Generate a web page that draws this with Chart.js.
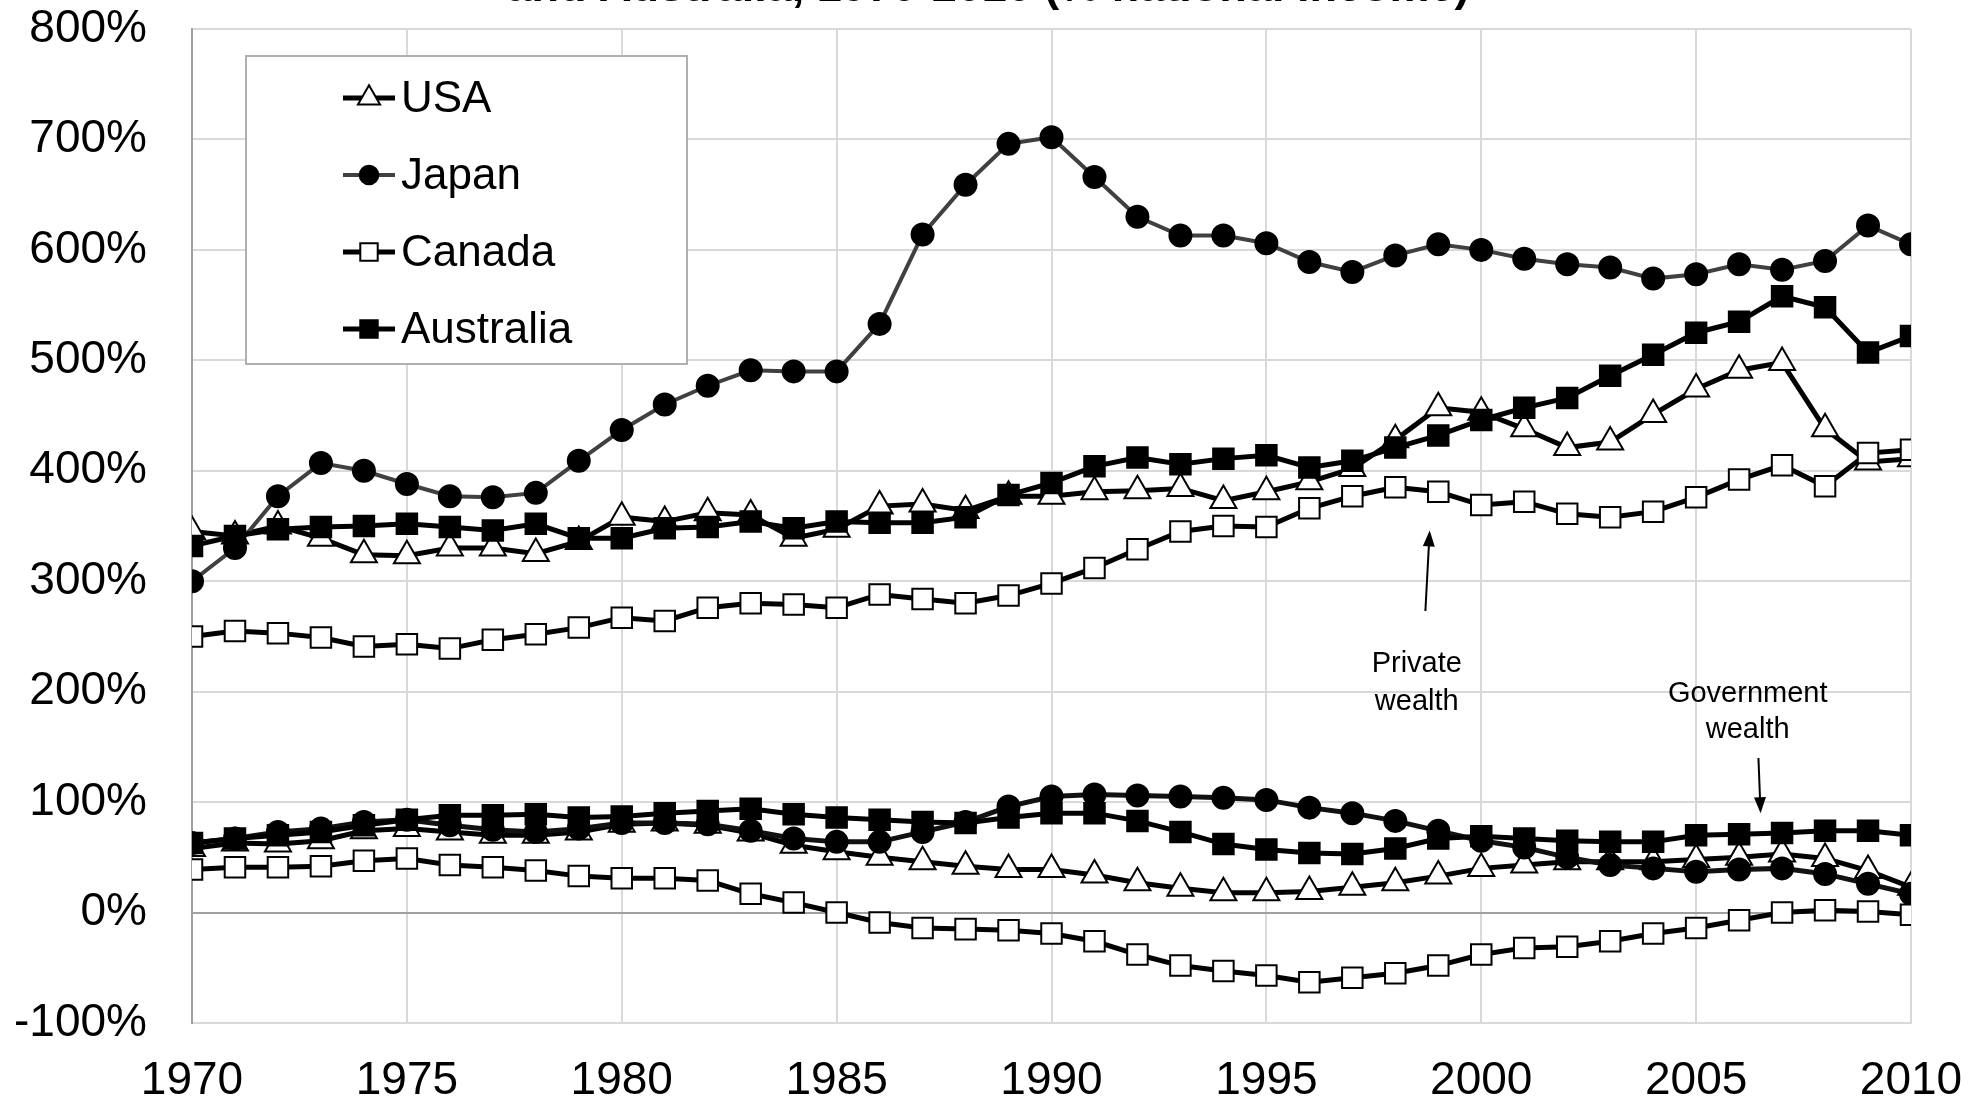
<!DOCTYPE html>
<html>
<head>
<meta charset="utf-8">
<script src="https://cdn.jsdelivr.net/npm/chart.js@4.4.1/dist/chart.umd.min.js"></script>
<style>
  html, body { margin: 0; padding: 0; background: #fff; overflow: hidden; }
  #wrap { position: absolute; left: 0; top: -60px; width: 1971px; height: 1166px; }
</style>
</head>
<body>
<div id="wrap"><canvas id="mycanvas" width="1971" height="1166"></canvas></div>
<script>
// chart data
var years = [1970, 1971, 1972, 1973, 1974, 1975, 1976, 1977, 1978, 1979,
             1980, 1981, 1982, 1983, 1984, 1985, 1986, 1987, 1988, 1989,
             1990, 1991, 1992, 1993, 1994, 1995, 1996, 1997, 1998, 1999,
             2000, 2001, 2002, 2003, 2004, 2005, 2006, 2007, 2008, 2009, 2010];

var countries = ["USA", "Japan", "Canada", "Australia"];

// private wealth (% national income)
var usaPrivate = [345, 341, 350, 339, 324, 323, 330, 330, 325, 336,
                  358, 354, 362, 360, 339, 347, 368, 370, 364, 377,
                  377, 381, 382, 384, 373, 381, 390, 402, 428, 457,
                  453, 438, 421, 426, 451, 474, 491, 498, 438, 408, 411];
var japanPrivate = [300, 330, 377, 407, 400, 388, 377, 376, 380, 409,
                    437, 460, 477, 491, 490, 490, 533, 614, 659, 696,
                    702, 666, 630, 613, 613, 606, 589, 580, 595, 605,
                    600, 592, 587, 584, 574, 578, 587, 582, 590, 622, 605];
var canadaPrivate = [250, 255, 253, 249, 241, 243, 239, 247, 252, 258,
                     267, 264, 276, 280, 279, 276, 288, 284, 280, 287,
                     298, 312, 329, 345, 350, 349, 366, 377, 385, 381,
                     369, 372, 361, 358, 363, 376, 392, 405, 386, 416, 419];
var australiaPrivate = [332, 341, 347, 349, 350, 352, 349, 346, 352, 339,
                        339, 348, 349, 354, 348, 354, 353, 353, 358, 378,
                        389, 404, 412, 406, 411, 414, 403, 409, 421, 432,
                        446, 457, 466, 486, 505, 525, 535, 558, 548, 507, 522];

// government wealth (% national income)
var usaGov = [58, 63, 62, 65, 74, 76, 73, 70, 70, 73,
              80, 81, 79, 72, 61, 55, 50, 46, 42, 39,
              39, 34, 27, 22, 18, 18, 19, 23, 27, 33,
              40, 43, 46, 46, 46, 48, 50, 53, 49, 38, 23];
var japanGov = [63, 67, 73, 76, 82, 84, 79, 75, 73, 76,
                81, 81, 80, 74, 67, 64, 64, 73, 82, 96,
                105, 107, 106, 105, 104, 102, 95, 90, 83, 74,
                65, 59, 50, 43, 40, 37, 39, 40, 35, 26, 17];
var canadaGov = [39, 41, 41, 42, 47, 49, 43, 41, 38, 33,
                 31, 31, 29, 17, 9, 0, -9, -14, -15, -16,
                 -19, -26, -38, -48, -53, -57, -63, -59, -55, -48,
                 -38, -32, -31, -26, -19, -14, -7, 0, 2, 1, -2];
var australiaGov = [63, 67, 70, 73, 79, 84, 88, 88, 89, 86,
                    87, 90, 92, 94, 89, 86, 84, 82, 81, 86,
                    90, 90, 83, 73, 62, 57, 54, 53, 58, 67,
                    69, 67, 65, 64, 64, 70, 71, 72, 74, 74, 70];

var yTicks = [-100, 0, 100, 200, 300, 400, 500, 600, 700, 800];
var xTicks = [1970, 1975, 1980, 1985, 1990, 1995, 2000, 2005, 2010];
var titleText = "and Australia, 1970-2010 (% national income)";

Chart.defaults.font.family = '"Liberation Sans", Arial, sans-serif';
Chart.defaults.color = "#000";

function pts(vals) {
	return vals.map(function(v, i) { return { x: years[i], y: v }; });
}

// marker / line look per country
var looks = {
	"USA":       { style: "triangle", radius: 15, fill: "#fff", line: "#000", lineW: 5, order: 4 },
	"Japan":     { style: "circle",   radius: 11, fill: "#000", line: "#404040", lineW: 4, order: 3 },
	"Canada":    { style: "rect",     radius: 14.5, fill: "#fff", line: "#000", lineW: 5, order: 2 },
	"Australia": { style: "rect",     radius: 14.5, fill: "#000", line: "#000", lineW: 5, order: 1 }
};

function makeSet(name, vals, gov) {
	var lk = looks[name];
	return {
		label: gov ? name + " (government)" : name,
		data: pts(vals),
		borderColor: gov && name == "Japan" ? "#111" : lk.line,
		borderWidth: gov && name == "Japan" ? 5 : lk.lineW,
		pointStyle: lk.style,
		pointRadius: lk.radius,
		pointHoverRadius: lk.radius,
		pointBackgroundColor: lk.fill,
		pointBorderColor: "#000",
		pointBorderWidth: 2,
		tension: 0,
		fill: false,
		order: lk.order
	};
}

var datasets = [
	makeSet("USA", usaPrivate, false),
	makeSet("Japan", japanPrivate, false),
	makeSet("Canada", canadaPrivate, false),
	makeSet("Australia", australiaPrivate, false),
	makeSet("USA", usaGov, true),
	makeSet("Japan", japanGov, true),
	makeSet("Canada", canadaGov, true),
	makeSet("Australia", australiaGov, true)
];

// legend box in the upper left of the plot
var boxLegend = {
	id: "boxLegend",
	afterDraw: function(chart) {
		var ctx = chart.ctx;
		var left = 246, top = 116, right = 687, bottom = 424;
		ctx.save();
		ctx.fillStyle = "#fff";
		ctx.fillRect(left, top, right - left, bottom - top);
		ctx.strokeStyle = "#b0b0b0";
		ctx.lineWidth = 2;
		ctx.strokeRect(left, top, right - left, bottom - top);
		for (var i = 0; i < countries.length; i++) {
			var ds = chart.data.datasets[i];
			var y = top + 42 + i * 77;
			ctx.strokeStyle = ds.borderColor;
			ctx.lineWidth = ds.borderWidth;
			ctx.beginPath();
			ctx.moveTo(343, y);
			ctx.lineTo(395, y);
			ctx.stroke();
			ctx.fillStyle = ds.pointBackgroundColor;
			ctx.strokeStyle = ds.pointBorderColor;
			ctx.lineWidth = ds.pointBorderWidth;
			Chart.helpers.drawPoint(ctx, {
				pointStyle: ds.pointStyle,
				radius: ds.pointRadius * 0.85,
				rotation: 0,
				borderWidth: ds.pointBorderWidth
			}, 369, y);
			ctx.fillStyle = "#000";
			ctx.font = '44px "Liberation Sans", Arial, sans-serif';
			ctx.textBaseline = "middle";
			ctx.textAlign = "left";
			ctx.fillText(countries[i], 401, y + 2);
		}
		ctx.restore();
	}
};

// "Private wealth" / "Government wealth" notes with arrows
var notes = {
	id: "notes",
	afterDatasetsDraw: function(chart) {
		var ctx = chart.ctx;
		var xs = chart.scales.x, ys = chart.scales.y;
		function arrow(x1, v1, x2, v2) {
			var ax = xs.getPixelForValue(x1), ay = ys.getPixelForValue(v1);
			var bx = xs.getPixelForValue(x2), by = ys.getPixelForValue(v2);
			var ang = Math.atan2(by - ay, bx - ax);
			ctx.strokeStyle = "#000";
			ctx.fillStyle = "#000";
			ctx.lineWidth = 2;
			ctx.beginPath();
			ctx.moveTo(ax, ay);
			ctx.lineTo(bx - 12 * Math.cos(ang), by - 12 * Math.sin(ang));
			ctx.stroke();
			ctx.beginPath();
			ctx.moveTo(bx, by);
			ctx.lineTo(bx - 16 * Math.cos(ang) + 6 * Math.sin(ang), by - 16 * Math.sin(ang) - 6 * Math.cos(ang));
			ctx.lineTo(bx - 16 * Math.cos(ang) - 6 * Math.sin(ang), by - 16 * Math.sin(ang) + 6 * Math.cos(ang));
			ctx.closePath();
			ctx.fill();
		}
		function text(str, x, v) {
			ctx.fillText(str, xs.getPixelForValue(x), ys.getPixelForValue(v));
		}
		ctx.save();
		ctx.font = '29px "Liberation Sans", Arial, sans-serif';
		ctx.fillStyle = "#000";
		ctx.textAlign = "center";
		ctx.textBaseline = "middle";
		text("Private", 1998.5, 225);
		text("wealth", 1998.5, 191);
		text("Government", 2006.2, 198);
		text("wealth", 2006.2, 165);
		arrow(1998.7, 273, 1998.8, 346);
		arrow(2006.45, 140, 2006.5, 90);
		ctx.restore();
	}
};

var ctx = document.getElementById("mycanvas");

var lineGraph = new Chart(ctx, {
	type: "line",
	data: { datasets: datasets },
	options: {
		responsive: false,
		animation: false,
		layout: { padding: { left: 14, right: 9, top: 0, bottom: 0 } },
		plugins: {
			legend: { display: false },
			tooltip: { enabled: false },
			title: {
				display: true,
				text: titleText,
				color: "#000",
				font: { size: 45, weight: "bold" },
				padding: { top: 22, bottom: 13 }
			}
		},
		scales: {
			x: {
				type: "linear",
				min: 1970,
				max: 2010,
				afterBuildTicks: function(axis) {
					axis.ticks = xTicks.map(function(v) { return { value: v }; });
				},
				afterFit: function(axis) {
					axis.height = 83;
					axis.paddingLeft = 51;
					axis.paddingRight = 60;
				},
				ticks: {
					font: { size: 46 },
					padding: 31,
					maxRotation: 0,
					callback: function(v) { return String(v); }
				},
				grid: { color: "#d9d9d9", lineWidth: 2, drawTicks: false },
				border: { color: "#d9d9d9", width: 2 }
			},
			y: {
				min: -100,
				max: 800,
				afterBuildTicks: function(axis) {
					axis.ticks = yTicks.map(function(v) { return { value: v }; });
				},
				afterFit: function(axis) {
					axis.width = 178;
				},
				ticks: {
					font: { size: 46 },
					padding: 45,
					callback: function(v) { return v + "%"; }
				},
				grid: {
					color: function(c) { return c.tick && c.tick.value === 0 ? "#a0a0a0" : "#d9d9d9"; },
					lineWidth: 2,
					drawTicks: false
				},
				border: { color: "#a0a0a0", width: 2 }
			}
		}
	},
	plugins: [notes, boxLegend]
});
</script>
</body>
</html>
